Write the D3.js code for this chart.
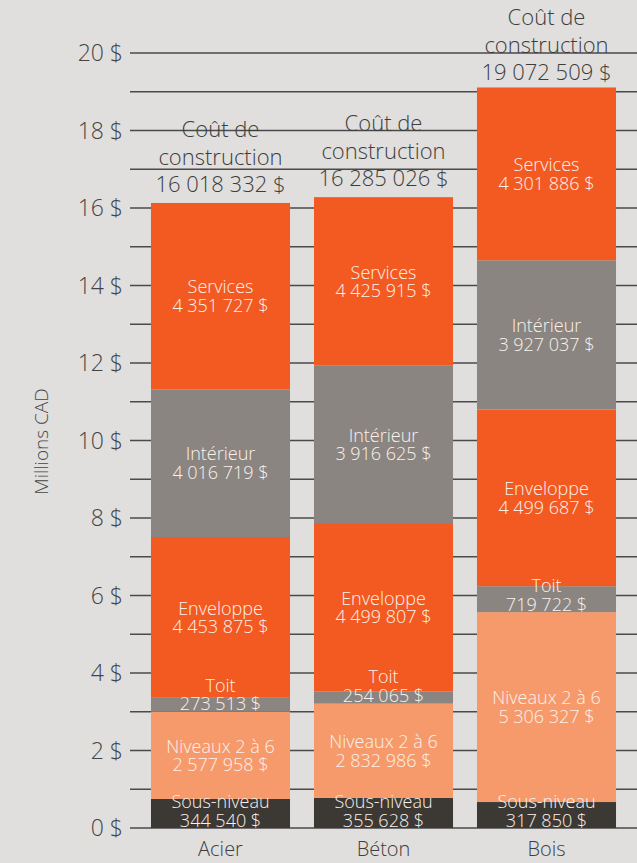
<!DOCTYPE html>
<html>
<head>
<meta charset="utf-8">
<script src="https://cdn.jsdelivr.net/npm/d3@7"></script>
<style>
  html, body { margin: 0; padding: 0; background: #e0dfdd; }
  svg { display: block; font-family: "Open Sans", "Noto Sans", sans-serif; font-weight: 300; }
</style>
</head>
<body>
<div id="chart"></div>
<script>
// Categories and stack order (bottom to top)
const categories = ['Acier', 'Béton', 'Bois'];
const layers = ['Sous-niveau', 'Niveaux 2 à 6', 'Toit', 'Enveloppe', 'Intérieur', 'Services'];

// Printed amounts ($)
const totals = [16018332, 16285026, 19072509];
const sousNiveau = [344540, 355628, 317850];
const niveaux = [2577958, 2832986, 5306327];
const toit = [273513, 254065, 719722];
const enveloppe = [4453875, 4499807, 4499687];
const interieur = [4016719, 3916625, 3927037];
const services = [4351727, 4425915, 4301886];

// Segment heights as drawn in the source, millions CAD
// (the drawing does not follow the printed amounts exactly)
const drawnSousNiveau = [0.75, 0.78, 0.67];
const drawnNiveaux = [2.25, 2.43, 4.90];
const drawnToit = [0.36, 0.31, 0.67];
const drawnEnveloppe = [4.15, 4.35, 4.56];
const drawnInterieur = [3.81, 4.06, 3.85];
const drawnServices = [4.81, 4.35, 4.46];

// Axis
const yMax = 20;
const tickLabels = [0, 2, 4, 6, 8, 10, 12, 14, 16, 18, 20];

const printed = {
  'Sous-niveau': sousNiveau, 'Niveaux 2 à 6': niveaux, 'Toit': toit,
  'Enveloppe': enveloppe, 'Intérieur': interieur, 'Services': services
};
const drawn = {
  'Sous-niveau': drawnSousNiveau, 'Niveaux 2 à 6': drawnNiveaux, 'Toit': drawnToit,
  'Enveloppe': drawnEnveloppe, 'Intérieur': drawnInterieur, 'Services': drawnServices
};
const colors = {
  'Sous-niveau': '#3c3934', 'Niveaux 2 à 6': '#f69a6b', 'Toit': '#8a8581',
  'Enveloppe': '#f25a22', 'Intérieur': '#8a8581', 'Services': '#f25a22'
};
// thin slices get their label sitting on the bottom edge
const bottomAnchored = new Set(['Sous-niveau', 'Toit']);

const fr = d3.formatLocale({ decimal: ',', thousands: '\u00a0', grouping: [3], currency: ['', '\u00a0$'] });
const money = v => fr.format(',')(v) + '\u00a0$';

const W = 637, H = 863;

const svg = d3.select('#chart')
  .append('svg')
  .attr('width', W)
  .attr('height', H);

const y = d3.scaleLinear().domain([0, yMax]).range([828, 53]);
const x = d3.scaleBand()
  .domain(categories)
  .range([139, 628])
  .paddingInner(0.147)
  .paddingOuter(0.0735);

// Gridlines, one per million
svg.append('g')
  .selectAll('line')
  .data(y.ticks(yMax))
  .join('line')
  .attr('x1', 130)
  .attr('x2', W)
  .attr('y1', d => y(d))
  .attr('y2', d => y(d))
  .attr('stroke', '#4a4a4a')
  .attr('stroke-width', 1.3);

// Tick labels
svg.append('g')
  .selectAll('text')
  .data(tickLabels)
  .join('text')
  .attr('x', 123)
  .attr('y', d => y(d))
  .attr('dy', '0.36em')
  .attr('text-anchor', 'end')
  .attr('fill', '#444')
  .attr('font-size', '23px')
  .text(d => `${d} $`);

// Axis title
svg.append('text')
  .attr('transform', `translate(48,${(y(0) + y(yMax)) / 2 + 1}) rotate(-90)`)
  .attr('text-anchor', 'middle')
  .attr('fill', '#444')
  .attr('font-size', '19px')
  .text('Millions CAD');

// Stacked bars
const rows = categories.map((c, i) => {
  const r = { category: c };
  layers.forEach(k => { r[k] = drawn[k][i]; });
  return r;
});
const series = d3.stack().keys(layers)(rows);

const layerG = svg.append('g')
  .selectAll('g')
  .data(series)
  .join('g')
  .attr('fill', s => colors[s.key]);

layerG.selectAll('rect')
  .data(s => s.map(d => ({ key: s.key, d })))
  .join('rect')
  .attr('x', p => x(p.d.data.category))
  .attr('width', x.bandwidth())
  .attr('y', p => y(p.d[1]))
  .attr('height', p => y(p.d[0]) - y(p.d[1]));

// Segment labels: name + amount in one text block
const labelG = svg.append('g')
  .attr('fill', '#fbf1ea')
  .attr('font-size', '18px')
  .attr('text-anchor', 'middle');

series.forEach(s => {
  s.forEach((d, i) => {
    const cx = x(d.data.category) + x.bandwidth() / 2;
    const valueBase = bottomAnchored.has(s.key)
      ? y(d[0]) - 1.5
      : (y(d[0]) + y(d[1])) / 2 + 16;
    const t = labelG.append('text').attr('x', cx).attr('y', valueBase - 18.7);
    t.append('tspan').attr('x', cx).text(s.key);
    t.append('tspan').attr('x', cx).attr('dy', 18.7).text(money(printed[s.key][i]));
  });
});

// Totals above bars
const topG = svg.append('g')
  .attr('fill', '#3d3d3d')
  .attr('font-size', '22px')
  .attr('text-anchor', 'middle');

categories.forEach((c, i) => {
  const cx = x(c) + x.bandwidth() / 2;
  const top = y(d3.max(series, s => s[i][1]));
  const base = Math.max(top - 11, 80);
  const t = topG.append('text').attr('x', cx).attr('y', base - 55);
  t.append('tspan').attr('x', cx).text('Coût de');
  t.append('tspan').attr('x', cx).attr('dy', 28).text('construction');
  t.append('tspan').attr('x', cx).attr('dy', 27).text(money(totals[i]));
});

// Category labels
svg.append('g')
  .selectAll('text')
  .data(categories)
  .join('text')
  .attr('x', d => x(d) + x.bandwidth() / 2)
  .attr('y', 856)
  .attr('text-anchor', 'middle')
  .attr('fill', '#3d3d3d')
  .attr('font-size', '20px')
  .text(d => d);
</script>
</body>
</html>
